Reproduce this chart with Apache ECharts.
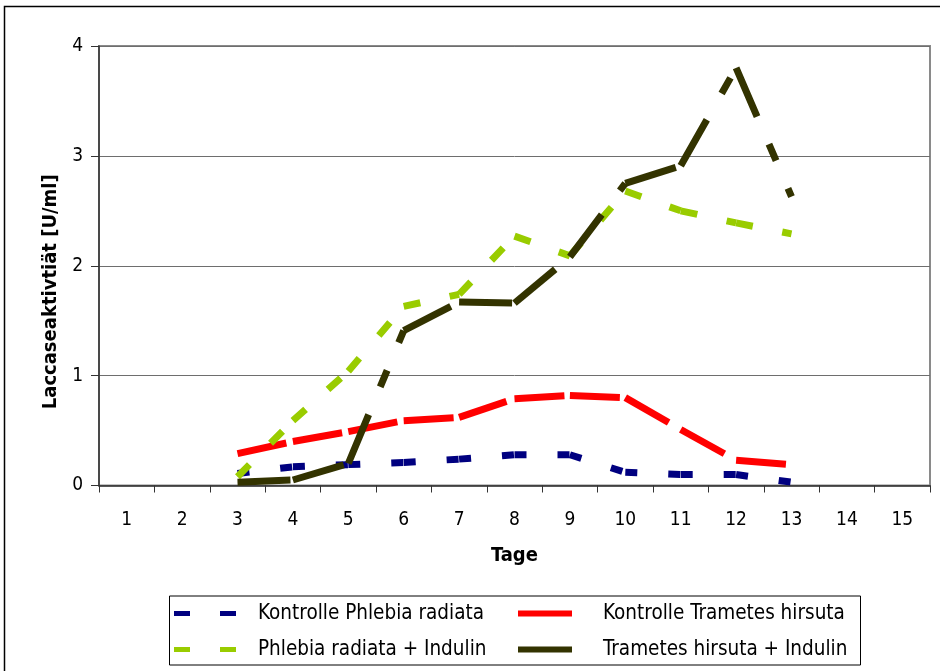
<!DOCTYPE html>
<html>
<head>
<meta charset="utf-8">
<title>Laccaseaktivität</title>
<script src="https://cdn.jsdelivr.net/npm/echarts@6/dist/echarts.min.js"></script>
<style>
  html, body { margin: 0; padding: 0; background: #fff; }
  #chart { width: 940px; height: 671px; }
</style>
</head>
<body>
<div id="chart"></div>
<script>
// Tage (x-axis categories)
const days = ['1','2','3','4','5','6','7','8','9','10','11','12','13','14','15'];
const yTicks = [0, 1, 2, 3, 4];

// Laccaseaktivität [U/ml] per day; null = not measured
const kontrollePhlebia   = [null, null, 0.11, 0.17, 0.19, 0.21, 0.24, 0.28, 0.28, 0.12, 0.10, 0.10, 0.03, null, null];
const kontrolleTrametes  = [null, null, 0.29, 0.40, 0.49, 0.59, 0.62, 0.79, 0.82, 0.80, 0.51, 0.23, 0.19, null, null];
const phlebiaIndulin     = [null, null, 0.08, 0.59, 1.04, 1.63, 1.74, 2.27, 2.09, 2.68, 2.50, 2.39, 2.29, null, null];
const trametesIndulin    = [null, null, 0.03, 0.05, 0.20, 1.41, 1.67, 1.66, 2.08, 2.75, 2.91, 3.80, 2.63, null, null];

const FONT = "'DejaVu Sans Condensed', 'DejaVu Sans', sans-serif";

const lines = [
  { name: 'Kontrolle Phlebia radiata',  values: kontrollePhlebia,  color: '#000080', dash: [12, 31] },
  { name: 'Kontrolle Trametes hirsuta', values: kontrolleTrametes, color: '#ff0000', dash: [50, 18] },
  { name: 'Phlebia radiata + Indulin',  values: phlebiaIndulin,    color: '#99cc00', dash: [17, 30] },
  { name: 'Trametes hirsuta + Indulin', values: trametesIndulin,   color: '#333300', dash: [53, 30, 18, 30] }
];

// Each line is drawn segment by segment so the dash pattern restarts at every data point.
function segmentSeries(line) {
  const out = [];
  for (let i = 0; i < line.values.length - 1; i++) {
    if (line.values[i] == null || line.values[i + 1] == null) continue;
    const data = line.values.map((v, j) => (j === i || j === i + 1) ? v : null);
    out.push({
      name: line.name,
      type: 'line',
      data: data,
      symbol: 'none',
      connectNulls: false,
      silent: true,
      lineStyle: { color: line.color, width: 7, type: line.dash, cap: 'butt', join: 'miter' },
      itemStyle: { color: line.color }
    });
  }
  return out;
}

const series = [];
lines.forEach(l => series.push(...segmentSeries(l)));

const dashIcon = 'path://M0,0h16v5h-16z M46,0h16v5h-16z';
function legendFor(name, left, top, icon, width, pad) {
  return {
    data: [{ name: name, icon: icon }],
    left: left, top: top,
    padding: 0,
    itemWidth: width, itemHeight: icon === 'rect' ? 6 : 5,
    selectedMode: false,
    textStyle: { fontFamily: FONT, fontSize: 20.5, color: '#000', padding: [0, 0, 0, pad] }
  };
}

const chart = echarts.init(document.getElementById('chart'), null, { renderer: 'canvas' });
chart.setOption({
  animation: false,
  backgroundColor: '#fff',
  grid: {
    left: 99, right: 10, top: 46, bottom: 185.5,
    show: true, borderColor: '#8a8a8a', borderWidth: 2, backgroundColor: 'transparent'
  },
  xAxis: {
    type: 'category',
    data: days,
    boundaryGap: true,
    name: 'Tage',
    nameLocation: 'middle',
    nameGap: 60,
    nameTextStyle: { fontFamily: FONT, fontSize: 20, fontWeight: 'bold', color: '#000' },
    axisLine: { lineStyle: { color: '#333', width: 1.5 } },
    axisTick: { show: true, length: 7, interval: 0, alignWithLabel: false, lineStyle: { color: '#333' } },
    axisLabel: { interval: 0, margin: 25, fontFamily: FONT, fontSize: 19, color: '#000' },
    splitLine: { show: false }
  },
  yAxis: {
    type: 'value',
    min: yTicks[0], max: yTicks[yTicks.length - 1], interval: 1,
    name: 'Laccaseaktivtiät [U/ml]',
    nameLocation: 'middle',
    nameGap: 38,
    nameTextStyle: { fontFamily: FONT, fontSize: 20, fontWeight: 'bold', color: '#000', padding: [0, 52, 0, 0] },
    axisLine: { show: true, lineStyle: { color: '#333', width: 1.5 } },
    axisTick: { show: true, length: 8, lineStyle: { color: '#333' } },
    axisLabel: { margin: 16, fontFamily: FONT, fontSize: 19, color: '#000' },
    splitLine: { show: true, lineStyle: { color: '#6e6e6e', width: 1 } }
  },
  legend: [
    legendFor(lines[0].name, 174, 603, dashIcon, 62, 17),
    legendFor(lines[1].name, 518, 603, 'rect', 54, 26),
    legendFor(lines[2].name, 174, 639, dashIcon, 62, 17),
    legendFor(lines[3].name, 518, 639, 'rect', 54, 26)
  ],
  graphic: [
    { type: 'rect', silent: true, z: 100,
      shape: { x: 4.5, y: 6.5, width: 1000, height: 1000 },
      style: { fill: 'none', stroke: '#000', lineWidth: 1.5 } },
    { type: 'rect', silent: true, z: 100,
      shape: { x: 169.5, y: 596, width: 691, height: 69 },
      style: { fill: 'none', stroke: '#000', lineWidth: 1 } }
  ],
  series: series
});
</script>
</body>
</html>
